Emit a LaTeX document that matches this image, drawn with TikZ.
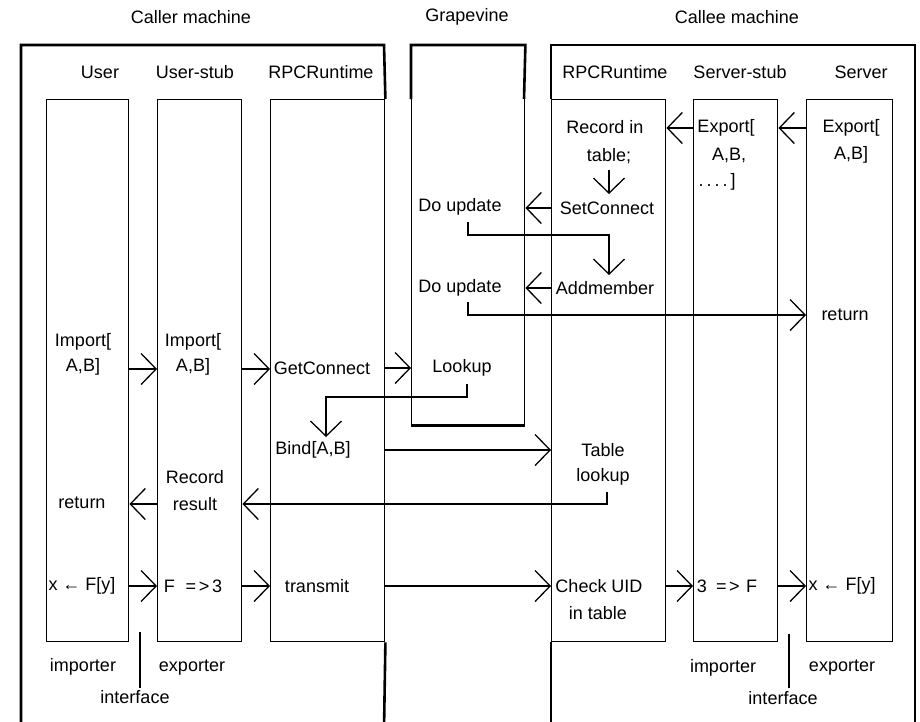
\documentclass[tikz,border=0pt]{standalone}
\usepackage{fontspec}
\setmainfont{Liberation Sans}
\usetikzlibrary{arrows.meta,calc}
\begin{document}
\begin{tikzpicture}[x=1pt,y=-1pt,
  txt/.style={inner sep=0pt, font=\fontsize{18}{21}\selectfont},
  col/.style={draw, line width=1.4pt, rectangle, inner sep=0pt, anchor=north west, minimum height=542pt},
  frame/.style={line width=2.6pt, line join=miter},
  arr/.style={line width=1.3pt, -{Straight Barb[length=15pt,width=31pt,line width=1.3pt]}},
  conn/.style={line width=1.3pt}]
\fill[white] (0,0) rectangle (920,721);
\useasboundingbox (0,0) rectangle (920,721);

% columns
\node[col, minimum width=82pt] (user) at (46,99) {};
\node[col, minimum width=84pt] (ustub) at (157,99) {};
\node[col, minimum width=114pt] (crpc) at (270,99) {};
\node[col, minimum width=114pt] (srpc) at (551,99) {};
\node[col, minimum width=84pt] (sstub) at (693,99) {};
\node[col, minimum width=86pt] (srv) at (806,99) {};
\node[col, minimum width=113pt, minimum height=379pt] (gv) at (411,45) {};

% frames
\draw[frame] (crpc.north east) -- (384,45) -- (21,45) -- (21,730);
\draw[frame] (crpc.south east) -- (384,730);
\draw[frame] (srpc.north west) -- (551,45) -- (915,45) -- (915,730);
\draw[frame] (srpc.south west) -- (551,730);
\draw[frame] (411,99) -- (gv.north west) -- (gv.north east) -- (524,99);
\draw[frame] (gv.south west) -- (gv.south east);

% titles
\node[txt] (tcaller) at (191,17) {Caller machine};
\node[txt] (tgv) at (467,17) {Grapevine};
\node[txt] (tcallee) at (737,17) {Callee machine};

% headers
\node[txt] (huser) at (100,72) {User};
\node[txt] (hustub) at (195,72) {User-stub};
\node[txt] (hcrpc) at (321,72) {RPCRuntime};
\node[txt] (hsrpc) at (615,72) {RPCRuntime};
\node[txt] (hsstub) at (740,72) {Server-stub};
\node[txt] (hsrv) at (861,72) {Server};

% user column
\node[txt] (imp1) at (83,342) {Import[};
\node[txt] (ab1) at (83,367) {A,B]};
\node[txt] (ret1) at (82,503) {return};
\node[txt] (xf1) at (82,586) {x ← F[y]};

% user-stub column
\node[txt] (imp2) at (193,342) {Import[};
\node[txt] (ab2) at (193,367) {A,B]};
\node[txt] (rec) at (195,477) {Record};
\node[txt] (res) at (195,504) {result};
\node[txt] (fe3) at (193,586) {F\hspace{0.6em}=\hspace{0.15em}>\hspace{0.15em}3};

% caller RPCRuntime
\node[txt] (getc) at (322,368) {GetConnect};
\node[txt] (bind) at (313,450) {Bind[A,B]};
\node[txt] (trans) at (317,586) {transmit};

% grapevine
\node[txt] (dou1) at (460,207) {Do update};
\node[txt] (dou2) at (460,288) {Do update};
\node[txt] (look) at (462,368) {Lookup};

% callee RPCRuntime
\node[txt] (recin) at (605,127) {Record in};
\node[txt] (tab) at (609,156) {table;};
\node[txt] (setc) at (607,208) {SetConnect};
\node[txt] (addm) at (605,288) {Addmember};
\node[txt] (tlook1) at (603,450) {Table};
\node[txt] (tlook2) at (603,477) {lookup};
\node[txt] (chk) at (599,586) {Check UID};
\node[txt] (chk2) at (598,613) {in table};

% server-stub
\node[txt] (exp2) at (726,128) {Export[};
\node[txt] (ab3) at (729,155) {A,B,};
\node[txt] (dots) at (717,182) {.\hspace{3pt}.\hspace{3pt}.\hspace{3pt}.\hspace{3pt}]};
\node[txt] (tef) at (727,586) {3\hspace{0.5em}=\hspace{0.15em}>\hspace{0.35em}F};

% server
\node[txt] (exp3) at (851,128) {Export[};
\node[txt] (ab4) at (851,155) {A,B]};
\node[txt] (ret3) at (845,315) {return};
\node[txt] (xf2) at (842,586) {x ← F[y]};

% bottom labels
\node[txt] (imp1l) at (83,667) {importer};
\node[txt] (exp1l) at (192,668) {exporter};
\node[txt] (if1) at (135,697) {interface};
\node[txt] (imp2l) at (723,668) {importer};
\node[txt] (exp2l) at (842,668) {exporter};
\node[txt] (if2) at (783,698) {interface};

\draw[conn] ($(if1)+(5,-9)$) -- ($(if1)+(5,-65)$);
\draw[conn] ($(if2)+(6,-10)$) -- ($(if2)+(6,-64)$);

% arrows
\draw[arr] (sstub.west |- exp2) -- (srpc.east |- exp2);
\draw[arr] (srv.west |- exp3) -- (sstub.east |- exp3);
\draw[arr] ($(tab)+(0,14)$) -- ($(setc)+(2,-14)$);
\draw[arr] (srpc.west |- setc) -- (gv.east |- setc);
\draw[arr] ($(dou1)+(8,15)$) -- ++(0,13) -| ($(addm)+(4,-13)$);
\draw[arr] (srpc.west |- addm) -- (gv.east |- addm);
\draw[arr] ($(dou2)+(8,14)$) |- (srv.west |- ret3);
\draw[arr] ([yshift=-2pt]user.east |- ab1) -- ([yshift=-2pt]ustub.west |- ab1);
\draw[arr] ([yshift=-2pt]ustub.east |- ab2) -- ([yshift=-2pt]crpc.west |- ab2);
\draw[arr] (crpc.east |- getc) -- (gv.west |- getc);
\draw[arr] ($(look)+(5,16)$) -- ++(0,13) -| ($(bind)+(13,-13)$);
\draw[arr] (crpc.east |- bind) -- (srpc.west |- bind);
\draw[arr] ($(tlook2)+(4,15)$) |- (ustub.east |- res);
\draw[arr] (ustub.west |- res) -- (user.east |- res);
\draw[arr] (user.east |- xf1) -- (ustub.west |- xf1);
\draw[arr] (ustub.east |- fe3) -- (crpc.west |- fe3);
\draw[arr] (crpc.east |- trans) -- (srpc.west |- trans);
\draw[arr] (srpc.east |- chk) -- (sstub.west |- chk);
\draw[arr] (sstub.east |- tef) -- (srv.west |- tef);
\end{tikzpicture}
\end{document}
